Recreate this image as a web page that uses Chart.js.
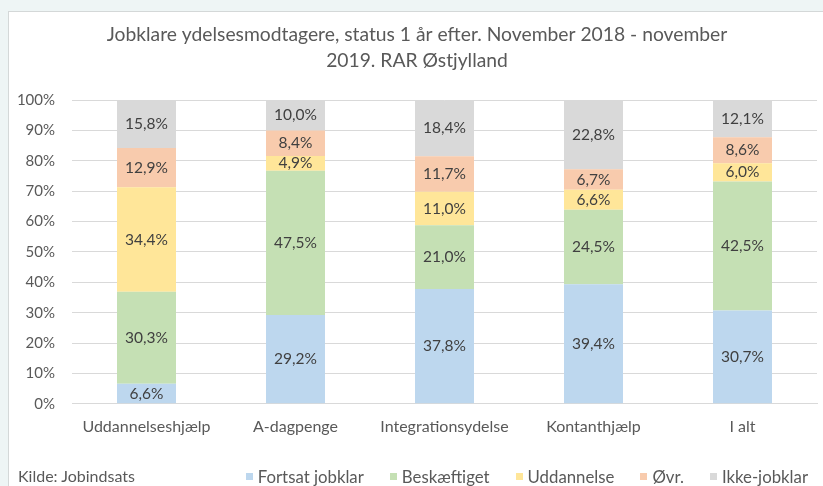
<!DOCTYPE html>
<html>
<head>
<meta charset="utf-8">
<script src="https://cdn.jsdelivr.net/npm/chart.js@4"></script>
<style>
  html, body { margin: 0; padding: 0; }
  body { width: 823px; height: 486px; background: #eef5f5; position: relative; overflow: hidden; font-family: Lato, sans-serif; }
  #box { position: absolute; left: 8px; top: 11px; width: 815px; height: 475px; background: #fff; border-top: 1px solid #d4d8d8; border-left: 1px solid #d4d8d8; box-sizing: border-box; }
  #source { position: absolute; left: 18px; top: 466px; font-size: 16px; color: #595959; }
  #legend { position: absolute; right: 15px; top: 466px; display: flex; gap: 26px; font-size: 16.8px; color: #595959; white-space: nowrap; }
  #legend span.item { display: flex; align-items: center; }
  #legend i { display: inline-block; width: 7px; height: 7px; margin-right: 5px; }
</style>
</head>
<body>
<div id="box"><canvas id="chart"></canvas></div>
<div id="source">Kilde: Jobindsats</div>
<div id="legend"></div>
<script>
// categories and series (percent)
const categories = ['Uddannelseshjælp', 'A-dagpenge', 'Integrationsydelse', 'Kontanthjælp', 'I alt'];
const seriesNames = ['Fortsat jobklar', 'Beskæftiget', 'Uddannelse', 'Øvr.', 'Ikke-jobklar'];
const fortsatJobklar = [6.6, 29.2, 37.8, 39.4, 30.7];
const beskaeftiget = [30.3, 47.5, 21.0, 24.5, 42.5];
const uddannelse = [34.4, 4.9, 11.0, 6.6, 6.0];
const oevr = [12.9, 8.4, 11.7, 6.7, 8.6];
const ikkeJobklar = [15.8, 10.0, 18.4, 22.8, 12.1];
const yTicks = [0, 10, 20, 30, 40, 50, 60, 70, 80, 90, 100];

const colors = ['#bdd7ee', '#c5e0b4', '#ffe699', '#f8cbad', '#d9d9d9'];
const fmt = v => v.toFixed(1).replace('.', ',') + '%';

// draws the value labels inside each bar segment
const segmentLabels = {
  id: 'segmentLabels',
  afterDatasetsDraw(chart) {
    const ctx = chart.ctx;
    ctx.save();
    ctx.font = '15.5px Lato, sans-serif';
    ctx.fillStyle = '#404040';
    ctx.textAlign = 'center';
    ctx.textBaseline = 'middle';
    chart.data.datasets.forEach((ds, i) => {
      chart.getDatasetMeta(i).data.forEach((bar, j) => {
        ctx.fillText(fmt(ds.data[j]), bar.x, (bar.y + bar.base) / 2);
      });
    });
    ctx.restore();
  }
};

const ctx = document.getElementById('chart').getContext('2d');
const chart = new Chart(ctx, {
  type: 'bar',
  data: {
    labels: categories,
    datasets: [fortsatJobklar, beskaeftiget, uddannelse, oevr, ikkeJobklar].map((d, i) => ({
      label: seriesNames[i], data: d, backgroundColor: colors[i]
    }))
  },
  options: {
    responsive: true,
    maintainAspectRatio: false,
    animation: false,
    datasets: { bar: { categoryPercentage: 0.8, barPercentage: 0.495 } },
    layout: { padding: { left: 8, right: 6, top: 0, bottom: 45 } },
    plugins: {
      title: {
        display: true,
        text: ['Jobklare ydelsesmodtagere, status 1 år efter. November 2018 - november', '2019. RAR Østjylland'],
        color: '#595959',
        font: { family: 'Lato', size: 19.3, weight: 'normal', lineHeight: 1.35 },
        padding: { top: 10, bottom: 26 }
      },
      legend: { display: false },
      tooltip: { enabled: false }
    },
    scales: {
      x: {
        stacked: true,
        grid: { display: false },
        border: { color: '#d9d9d9' },
        ticks: { color: '#595959', font: { family: 'Lato', size: 16 }, padding: 5 }
      },
      y: {
        stacked: true,
        min: 0,
        max: 100,
        afterBuildTicks: axis => { axis.ticks = yTicks.map(v => ({ value: v })); },
        afterFit: axis => { axis.width = 55; },
        grid: { color: '#d9d9d9', drawTicks: false },
        border: { display: false },
        ticks: { color: '#595959', font: { family: 'Lato', size: 15 }, padding: 17, callback: v => v + '%' }
      }
    }
  },
  plugins: [segmentLabels]
});

// legend built from the chart's datasets
const legend = document.getElementById('legend');
chart.data.datasets.forEach(ds => {
  const item = document.createElement('span');
  item.className = 'item';
  const sw = document.createElement('i');
  sw.style.background = ds.backgroundColor;
  item.appendChild(sw);
  item.appendChild(document.createTextNode(ds.label));
  legend.appendChild(item);
});
</script>
</body>
</html>
